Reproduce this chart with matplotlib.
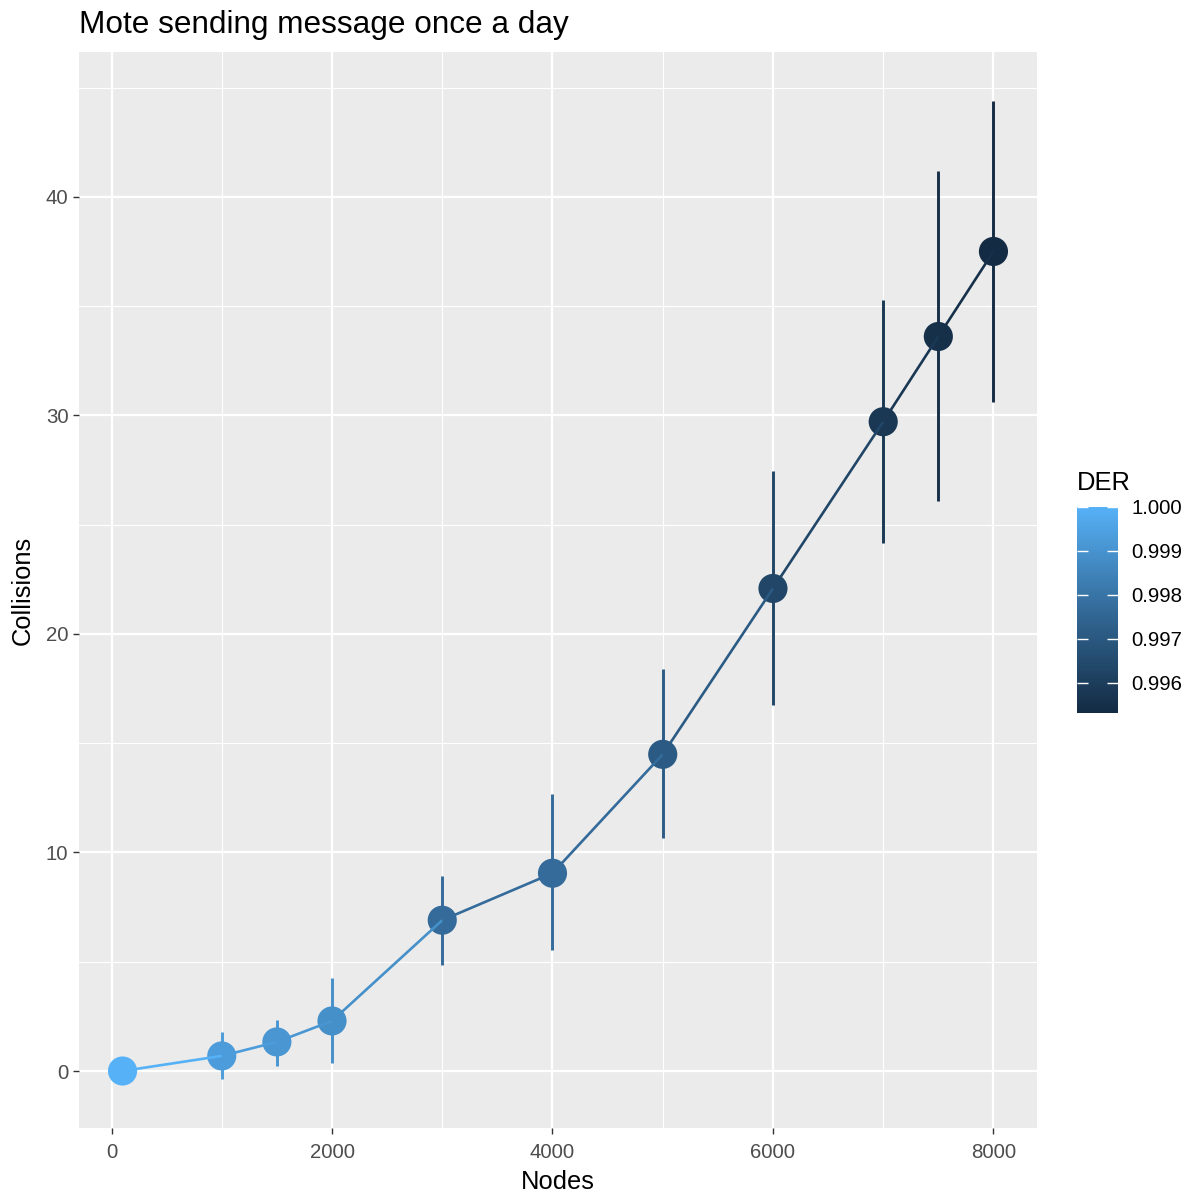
from matplotlib import pyplot as plt
from matplotlib.colors import LinearSegmentedColormap, Normalize
from matplotlib.cm import ScalarMappable

# data
nodes = [100, 1000, 1500, 2000, 3000, 4000, 5000, 6000, 7000, 7500, 8000]
collisions = [0.0, 0.69, 1.33, 2.29, 6.90, 9.05, 14.49, 22.08, 29.71, 33.61, 37.50]
collisionsLow = [0.0, -0.37, 0.23, 0.37, 4.85, 5.53, 10.65, 16.73, 24.14, 26.06, 30.63]
collisionsHigh = [0.0, 1.78, 2.33, 4.25, 8.91, 12.66, 18.38, 27.47, 35.26, 41.16, 44.39]
der = [1.0000, 0.9993, 0.9991, 0.9989, 0.9977, 0.9977, 0.9971, 0.9963, 0.9958, 0.9955, 0.99531]

xTicks = [0, 2000, 4000, 6000, 8000]
yTicks = [0, 10, 20, 30, 40]
derTicks = [0.996, 0.997, 0.998, 0.999, 1.000]

plt.rcParams['font.family'] = ['Liberation Sans', 'DejaVu Sans']

panelColor = '#EBEBEB'
tickLabelColor = '#4D4D4D'
tickColor = '#333333'

cmap = LinearSegmentedColormap.from_list('ggblue', ['#132B43', '#336A98', '#56B1F7'])
norm = Normalize(vmin=min(der), vmax=max(der))

figure = plt.figure(figsize=(11.94, 11.98), dpi=100)
axis = figure.add_axes([79 / 1194, 1 - 1128 / 1198, (1037 - 79) / 1194, (1128 - 52) / 1198])
axis.set_facecolor(panelColor)
for spine in axis.spines.values():
    spine.set_visible(False)

# error bars
for x, lo, hi, d in zip(nodes, collisionsLow, collisionsHigh, der):
    if hi > lo:
        axis.vlines(x, lo, hi, color=cmap(norm(d)), linewidth=2.1, zorder=2)

# points
axis.scatter(nodes, collisions, c=der, cmap=cmap, norm=norm, s=440, linewidths=0, zorder=3)

# line, each segment coloured by its starting point
for i in range(len(nodes) - 1):
    axis.plot(nodes[i:i + 2], collisions[i:i + 2], color=cmap(norm(der[i])),
              linewidth=1.9, solid_capstyle='butt', zorder=4)

xSpan = max(nodes) - min(nodes)
axis.set_xlim(min(nodes) - 0.05 * xSpan, max(nodes) + 0.05 * xSpan)
ySpan = max(collisionsHigh) - min(collisionsLow)
axis.set_ylim(min(collisionsLow) - 0.05 * ySpan, max(collisionsHigh) + 0.05 * ySpan)

axis.set_xticks(xTicks)
axis.set_yticks(yTicks)
axis.set_xticks([1000, 3000, 5000, 7000], minor=True)
axis.set_yticks([5, 15, 25, 35, 45], minor=True)
axis.grid(which='major', color='white', linewidth=1.6, zorder=0)
axis.grid(which='minor', color='white', linewidth=0.8, zorder=0)
axis.set_axisbelow(True)
axis.tick_params(which='major', length=4.6, width=1.0, color=tickColor,
                 labelsize=14.7, labelcolor=tickLabelColor, pad=3)
axis.tick_params(axis='x', which='major', pad=6)
axis.tick_params(which='minor', length=0)

axis.set_xlabel('Nodes', fontsize=18.4, labelpad=6)
axis.set_ylabel('Collisions', fontsize=18.4, labelpad=8)
axis.set_title('Mote sending message once a day', fontsize=22.7, loc='left', pad=13.7)

# colour bar legend
colorAxis = figure.add_axes([1077 / 1194, 1 - 713 / 1198, 41 / 1194, 206 / 1198])
colorbar = figure.colorbar(ScalarMappable(norm=norm, cmap=cmap), cax=colorAxis)
colorbar.outline.set_visible(False)
colorbar.set_ticks(derTicks)
colorbar.set_ticklabels(['{:.3f}'.format(t) for t in derTicks])
colorAxis.tick_params(direction='in', length=8, width=1.0, color='white', left=True, right=True,
                      labelsize=14.7, labelcolor='black', pad=9.5)
colorAxis.set_title('DER', fontsize=18.4, loc='left', pad=12.5)

plt.savefig('out.png', dpi=100)
